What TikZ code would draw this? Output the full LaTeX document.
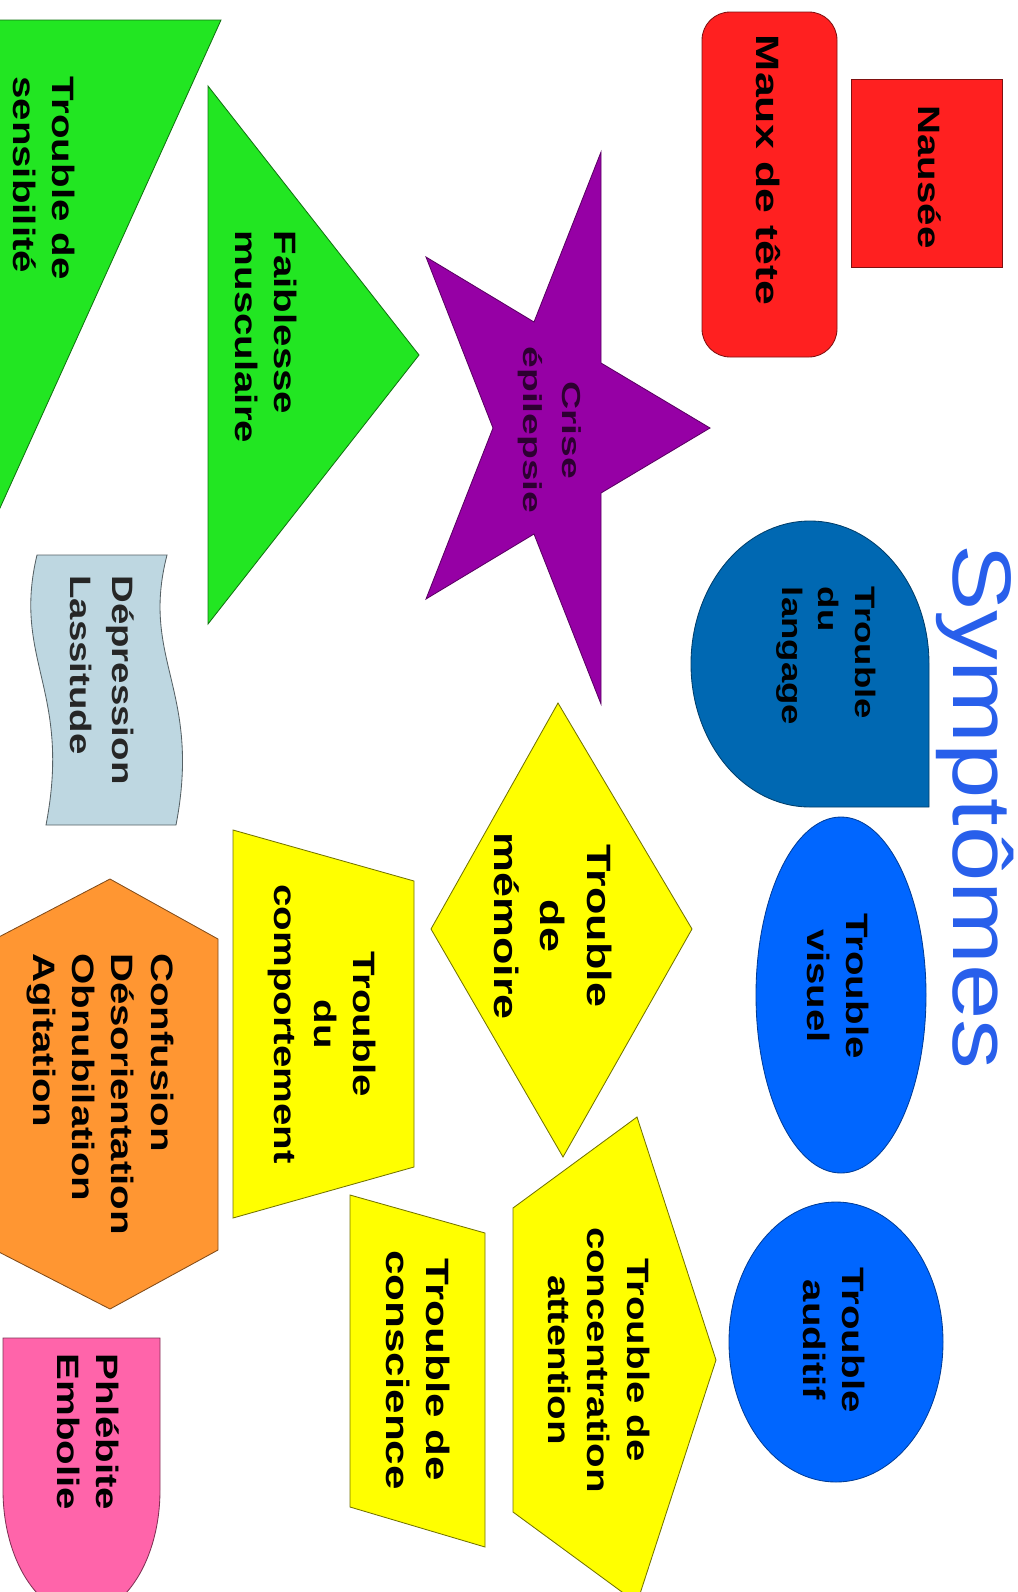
\documentclass[tikz,border=0pt]{standalone}
\usepackage{fontspec}
\setmainfont{Liberation Sans}
\usepackage{tikz}
\definecolor{leafgreen}{RGB}{34,230,34}
\definecolor{alarmred}{RGB}{255,32,32}
\definecolor{starpurple}{RGB}{150,0,165}
\definecolor{deepblue}{RGB}{0,104,178}
\definecolor{brightblue}{RGB}{0,102,255}
\definecolor{lemon}{RGB}{255,255,0}
\definecolor{tangerine}{RGB}{255,150,50}
\definecolor{paleblue}{RGB}{190,215,225}
\definecolor{rosepink}{RGB}{255,100,170}
\definecolor{titleblue}{RGB}{40,95,235}
\tikzset{%
  base/.style = {rotate=-90, xscale=1.3, align=center, text=black,
      inner sep=0pt, font=\bfseries\fontsize{22}{28}\selectfont},
  baseLeft/.style = {base, align=left},
  heading/.style = {rotate=-90, xscale=1.2, inner sep=0pt, text=titleblue,
      font=\fontsize{59}{60}\selectfont},
  greenPart/.style = {fill=leafgreen, draw=leafgreen!50!black},
  redPart/.style = {fill=alarmred, draw=alarmred!50!black},
  starPart/.style = {fill=starpurple, draw=starpurple!60!black},
  deepPart/.style = {fill=deepblue, draw=deepblue!60!black},
  bluePart/.style = {fill=brightblue, draw=brightblue!60!black},
  yellowPart/.style = {fill=lemon, draw=lemon!45!black},
  orangePart/.style = {fill=tangerine, draw=tangerine!50!black},
  palePart/.style = {fill=paleblue, draw=paleblue!45!black},
  pinkPart/.style = {fill=rosepink, draw=rosepink!50!black},
}

\begin{document}
\begin{tikzpicture}[x=0.025cm, y=-0.025cm, line width=0.6pt]
  \useasboundingbox (0,0) rectangle (1018,1592);
  \clip (0,0) rectangle (1018,1592);
  % Specification of shapes (position, etc.)
  \filldraw[greenPart]  (-10,20) -- (221,20) -- (-10,530) -- cycle;
  \filldraw[greenPart]  (208,86) -- (419,355) -- (208,624) -- cycle;
  \filldraw[starPart]   (710,428) -- (601,363) -- (601,152) -- (534,322)
                        -- (426,257) -- (493,428) -- (426,599) -- (534,534)
                        -- (601,704) -- (601,493) -- cycle;
  \filldraw[redPart, rounded corners=20] (702,12) rectangle (837,357);
  \filldraw[redPart]    (851,79) rectangle (1002,267);
  \filldraw[deepPart]   (929,807) -- (810,807)
                        arc[start angle=90, end angle=360,
                            x radius=119, y radius=143] -- cycle;
  \filldraw[bluePart]   (841,995) ellipse[x radius=85, y radius=178];
  \filldraw[bluePart]   (836,1342) ellipse[x radius=107, y radius=140];
  \filldraw[yellowPart] (431,929) -- (558,703) -- (692,929) -- (563,1157)
                        -- cycle;
  \filldraw[yellowPart] (233,830) -- (414,881) -- (414,1167) -- (233,1218)
                        -- cycle;
  \filldraw[yellowPart] (350,1195) -- (485,1233) -- (485,1547) -- (350,1507)
                        -- cycle;
  \filldraw[yellowPart] (637,1117) -- (716,1360) -- (637,1603) -- (513,1512)
                        -- (513,1208) -- cycle;
  \filldraw[palePart]   (37,555) -- (167,555)
                        .. controls (140,660) and (202,690) .. (176,825)
                        -- (46,825)
                        .. controls (72,690) and (12,660) .. (37,555) -- cycle;
  \filldraw[orangePart] (110,879) -- (218,939) -- (218,1250) -- (110,1309)
                        -- (-5,1250) -- (-5,939) -- cycle;
  \filldraw[pinkPart]   (3,1338) -- (160,1338) -- (160,1490)
                        arc[start angle=0, end angle=180,
                            x radius=78.5, y radius=125] -- cycle;

  % Specification of texts
  \node (sensibiliteText) [baseLeft] at (44,178)  {Trouble de\\sensibilité};
  \node (faiblesseText)   [baseLeft] at (266,337) {Faiblesse\\musculaire};
  \node (criseText)       [base, xscale=1.5/1.3, text=starpurple!30!black,
                           font=\bfseries\fontsize{18.5}{28}\selectfont]
                                     at (550,430) {Crise\\épilepsie};
  \node (mauxText)        [base, xscale=1.38/1.3,
                           font=\bfseries\fontsize{23}{28}\selectfont]
                                     at (768,170) {Maux de tête};
  \node (nauseeText)      [base]     at (930,177) {Nausée};
  \node (symptomesText)   [heading]  at (975,807) {Symptômes};
  \node (langageText)     [baseLeft, font=\bfseries\fontsize{20}{26}\selectfont]
                                     at (826,656) {Trouble\\du\\langage};
  \node (visuelText)      [base]     at (838,986) {Trouble\\visuel};
  \node (auditifText)     [base]     at (834,1340) {Trouble\\auditif};
  \node (memoireText)     [base, xscale=1.33/1.3,
                           font=\bfseries\fontsize{24}{33}\selectfont]
                                     at (553,926) {Trouble\\de\\mémoire};
  \node (comportText)     [base]     at (322,1024) {Trouble\\du\\comportement};
  \node (conscienceText)  [base, xscale=1.36/1.3,
                           font=\bfseries\fontsize{23}{29}\selectfont]
                                     at (418,1370) {Trouble de\\conscience};
  \node (concentrText)    [base]     at (599,1360)
                                     {Trouble de\\concentration\\attention};
  \node (depressionText)  [baseLeft, text=black!85,
                           font=\bfseries\fontsize{21}{30}\selectfont]
                                     at (102,680) {Dépression\\Lassitude};
  \node (confusionText)   [baseLeft] at (100,1094)
                    {Confusion\\Désorientation\\Obnubilation\\Agitation};
  \node (phlebiteText)    [baseLeft] at (88,1432) {Phlébite\\Embolie};
\end{tikzpicture}
\end{document}
